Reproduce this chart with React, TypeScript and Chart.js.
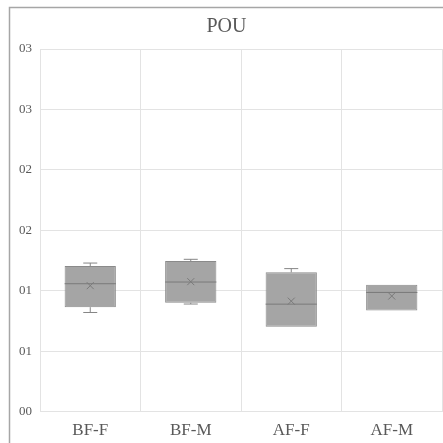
import React, { useEffect, useRef } from "react";
import { Chart, registerables } from "chart.js";

Chart.register(...registerables);

const categories = ["BF-F", "BF-M", "AF-F", "AF-M"];
const minValues = [0.0082, 0.0089, 0.0070, 0.00837];
const q1Values = [0.00864, 0.0090, 0.00702, 0.00837];
const medianValues = [0.01058, 0.01072, 0.00889, 0.00986];
const meanValues = [0.01042, 0.01075, 0.00914, 0.00956];
const q3Values = [0.01204, 0.01246, 0.01152, 0.0105];
const maxValues = [0.01229, 0.0126, 0.01183, 0.0105];
const yTickValues = [0, 0.005, 0.01, 0.015, 0.02, 0.025, 0.03];
const yTickLabels = ["00", "01", "01", "02", "02", "03", "03"];
const chartTitle = "POU";

const boxPlugin = {
  id: "boxExtras",
  beforeDraw(chart: any) {
    const ctx = chart.ctx;
    ctx.save();
    ctx.fillStyle = "#ffffff";
    ctx.fillRect(0, 0, chart.width, chart.height);
    ctx.strokeStyle = "#a6a6a6";
    ctx.lineWidth = 1.5;
    ctx.strokeRect(9.5, 7.5, 460, 460);
    ctx.restore();
  },
  afterDatasetsDraw(chart: any) {
    const ctx = chart.ctx;
    const y = chart.scales.y;
    const meta = chart.getDatasetMeta(0);
    ctx.save();
    meta.data.forEach((bar: any, i: number) => {
      const x = bar.x;
      const half = bar.width / 2;
      const yMin = y.getPixelForValue(minValues[i]);
      const yQ1 = y.getPixelForValue(q1Values[i]);
      const yMed = y.getPixelForValue(medianValues[i]);
      const yMean = y.getPixelForValue(meanValues[i]);
      const yQ3 = y.getPixelForValue(q3Values[i]);
      const yMax = y.getPixelForValue(maxValues[i]);
      ctx.strokeStyle = "#858585";
      ctx.lineWidth = 1;
      const cap = 7;
      if (yMax < yQ3 - 0.5) {
        ctx.beginPath();
        ctx.moveTo(x, yQ3);
        ctx.lineTo(x, yMax);
        ctx.moveTo(x - cap, yMax);
        ctx.lineTo(x + cap, yMax);
        ctx.stroke();
      }
      if (yMin > yQ1 + 0.5) {
        ctx.beginPath();
        ctx.moveTo(x, yQ1);
        ctx.lineTo(x, yMin);
        ctx.moveTo(x - cap, yMin);
        ctx.lineTo(x + cap, yMin);
        ctx.stroke();
      }
      ctx.strokeStyle = "#7a7a7a";
      ctx.beginPath();
      ctx.moveTo(x - half, yMed);
      ctx.lineTo(x + half, yMed);
      ctx.stroke();
      const m = 3.5;
      ctx.beginPath();
      ctx.moveTo(x - m, yMean - m);
      ctx.lineTo(x + m, yMean + m);
      ctx.moveTo(x - m, yMean + m);
      ctx.lineTo(x + m, yMean - m);
      ctx.stroke();
    });
    ctx.restore();
  },
};

export default function App() {
  const ref = useRef<HTMLCanvasElement>(null);
  useEffect(() => {
    const prevMargin = document.body.style.margin;
    const prevOverflow = document.body.style.overflow;
    document.body.style.margin = "0";
    document.body.style.overflow = "hidden";
    const chart = new Chart(ref.current!, {
      type: "bar",
      data: {
        labels: categories,
        datasets: [
          {
            data: q1Values.map((q, i) => [q, q3Values[i]]) as any,
            backgroundColor: "#a5a5a5",
            borderColor: "#8a8a8a",
            borderWidth: 1,
            borderSkipped: false,
            barPercentage: 0.51,
            categoryPercentage: 1,
          },
        ],
      },
      options: {
        animation: false,
        responsive: false,
        maintainAspectRatio: false,
        layout: { padding: { top: 12, left: 11, right: 1, bottom: 4 } },
        plugins: {
          legend: { display: false },
          tooltip: { enabled: false },
          title: {
            display: true,
            text: chartTitle,
            color: "#595959",
            font: { family: "Liberation Serif", size: 20, weight: "normal" },
            padding: { top: 3, bottom: 10 },
          },
        },
        scales: {
          x: {
            grid: { color: "#e3e3e3", offset: true, drawTicks: false },
            border: { display: false },
            ticks: {
              color: "#595959",
              font: { family: "Liberation Serif", size: 17 },
              padding: 9,
            },
          },
          y: {
            min: 0,
            max: 0.03,
            afterBuildTicks: (axis: any) => {
              axis.ticks = yTickValues.map((v) => ({ value: v }));
            },
            grid: { color: "#e3e3e3", drawTicks: false },
            border: { display: false },
            ticks: {
              color: "#595959",
              font: { family: "Liberation Serif", size: 13 },
              padding: 8,
              callback: (_v: any, i: number) => yTickLabels[i],
            },
          },
        },
      },
      plugins: [boxPlugin],
    });
    return () => {
      chart.destroy();
      document.body.style.margin = prevMargin;
      document.body.style.overflow = prevOverflow;
    };
  }, []);
  return (
    <div style={{ position: "absolute", left: 0, top: 0, width: 443, height: 443, overflow: "hidden" }}>
      <canvas ref={ref} width={443} height={454} style={{ display: "block" }} />
    </div>
  );
}
